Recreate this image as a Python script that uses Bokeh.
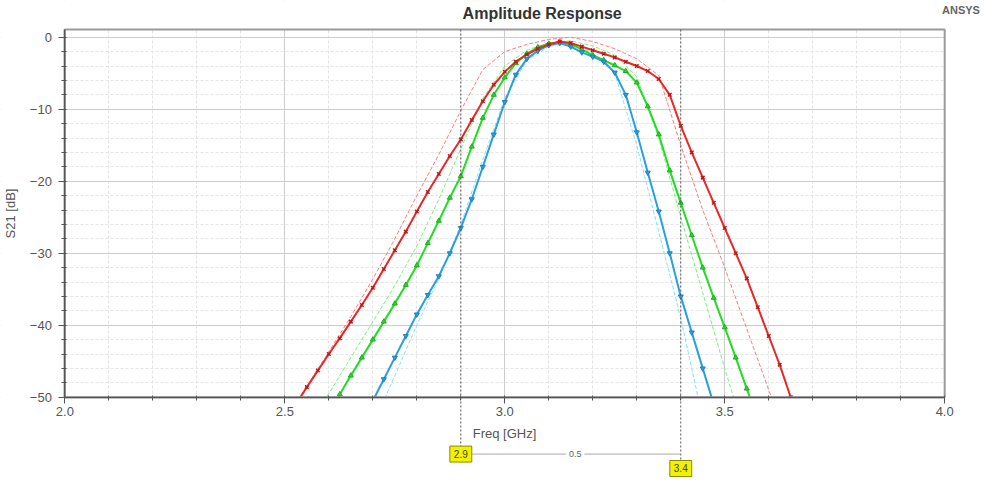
from bokeh.plotting import figure
from bokeh.models import Range1d, SingleIntervalTicker, Label, Arrow, PrintfTickFormatter
from bokeh.embed import file_html
from bokeh.resources import INLINE

# ---------------- data ----------------
freq_red = [2.525, 2.55, 2.575, 2.6, 2.625, 2.65, 2.675, 2.7, 2.725, 2.75, 2.775, 2.8, 2.825,
            2.85, 2.875, 2.9, 2.925, 2.95, 2.975, 3.0, 3.025, 3.05, 3.075, 3.1, 3.125, 3.15,
            3.175, 3.2, 3.225, 3.25, 3.275, 3.3, 3.325, 3.35, 3.375, 3.4, 3.425, 3.45, 3.475,
            3.5, 3.525, 3.55, 3.575, 3.6, 3.625, 3.65, 3.675]
s21_red = [-51.0, -48.6, -46.3, -44.0, -41.8, -39.5, -37.2, -34.8, -32.2, -29.6, -27.0, -24.2, -21.5,
           -19.0, -16.5, -14.2, -11.5, -8.9, -6.6, -4.8, -3.4, -2.4, -1.6, -1.0, -0.6, -0.8,
           -1.3, -1.8, -2.3, -2.8, -3.4, -4.0, -4.7, -5.8, -8.0, -12.3, -16.0, -19.5, -23.0,
           -26.5, -30.0, -33.5, -37.5, -41.5, -45.5, -50.0, -54.0]

freq_green = [2.6, 2.625, 2.65, 2.675, 2.7, 2.725, 2.75, 2.775, 2.8, 2.825, 2.85, 2.875, 2.9,
              2.925, 2.95, 2.975, 3.0, 3.025, 3.05, 3.075, 3.1, 3.125, 3.15, 3.175, 3.2, 3.225,
              3.25, 3.275, 3.3, 3.325, 3.35, 3.375, 3.4, 3.425, 3.45, 3.475, 3.5, 3.525, 3.55, 3.575]
s21_green = [-52.5, -49.6, -47.0, -44.5, -42.0, -39.5, -37.0, -34.4, -31.7, -28.6, -25.5, -22.3, -19.3,
             -15.2, -11.2, -8.0, -5.6, -3.6, -2.3, -1.4, -0.9, -0.7, -1.0, -1.7, -2.5, -3.2,
             -3.9, -4.7, -6.3, -9.6, -13.5, -18.5, -23.0, -27.5, -32.0, -36.2, -40.3, -44.5, -48.8, -53.0]

freq_blue = [2.675, 2.7, 2.725, 2.75, 2.775, 2.8, 2.825, 2.85, 2.875, 2.9, 2.925, 2.95, 2.975,
             3.0, 3.025, 3.05, 3.075, 3.1, 3.125, 3.15, 3.175, 3.2, 3.225, 3.25, 3.275, 3.3,
             3.325, 3.35, 3.375, 3.4, 3.425, 3.45, 3.475]
s21_blue = [-53.5, -50.5, -47.5, -44.5, -41.5, -38.5, -35.8, -33.2, -30.0, -26.5, -22.5, -18.0, -13.5,
            -9.0, -5.2, -3.0, -1.9, -1.1, -0.8, -1.3, -2.1, -2.7, -3.4, -4.9, -8.0, -13.2,
            -18.8, -24.2, -30.0, -36.0, -41.0, -46.0, -51.0]

freq_pink_d = [2.5, 2.55, 2.6, 2.65, 2.7, 2.75, 2.8, 2.85, 2.9, 2.95, 3.0, 3.05, 3.1, 3.15,
               3.2, 3.25, 3.3, 3.35, 3.4, 3.45, 3.5, 3.55, 3.6, 3.65]
s21_pink_d = [-53.0, -48.5, -43.7, -38.8, -33.6, -28.0, -22.0, -16.3, -10.2, -4.5, -2.0, -1.0, -0.3, 0.0,
              -0.6, -1.6, -3.0, -5.3, -15.0, -24.0, -32.0, -40.5, -49.0, -57.0]

freq_lgreen_d = [2.55, 2.6, 2.65, 2.7, 2.75, 2.8, 2.85, 2.9, 2.95, 3.0, 3.05, 3.1, 3.15, 3.2,
                 3.25, 3.3, 3.35, 3.4, 3.45, 3.5, 3.55]
s21_lgreen_d = [-54.0, -49.5, -44.5, -39.5, -34.5, -29.0, -22.5, -15.5, -8.5, -4.0, -1.8, -0.8, -0.5, -1.2,
                -2.5, -5.5, -14.0, -25.0, -35.5, -46.0, -56.0]

freq_cyan_d = [2.7, 2.75, 2.8, 2.85, 2.9, 2.95, 3.0, 3.05, 3.1, 3.15, 3.2, 3.25, 3.3, 3.35, 3.4, 3.45]
s21_cyan_d = [-54.0, -47.0, -40.0, -33.5, -26.0, -17.0, -8.5, -3.2, -1.3, -0.8, -2.2, -5.0, -15.0, -27.0, -39.0, -53.0]

marker_freqs = [2.9, 3.4]
marker_labels = ["2.9", "3.4"]
delta_label = "0.5"

# plot box (axis limits) and the extended frame that also holds the labels and marker strip
X_MIN, X_MAX = 2.0, 4.0
Y_MIN, Y_MAX = -50.0, 1.07
FRAME_X = (1.8536, 4.0905)
FRAME_Y = (-61.29, 5.10)

FONT = "Liberation Sans"
GRAY = "#555555"

p = figure(width=984, height=478, output_backend="svg", toolbar_location=None,
           x_range=Range1d(*FRAME_X), y_range=Range1d(*FRAME_Y),
           min_border_left=0, min_border_right=0, min_border_top=0, min_border_bottom=0)
p.background_fill_color = "white"
p.border_fill_color = "white"
p.outline_line_color = None

# axes
p.xaxis.ticker = SingleIntervalTicker(interval=0.5, num_minor_ticks=5)
p.yaxis.ticker = SingleIntervalTicker(interval=10, num_minor_ticks=5)
p.xaxis.formatter = PrintfTickFormatter(format="%.1f")
p.xaxis.fixed_location = Y_MIN
p.yaxis.fixed_location = X_MIN
p.xaxis.bounds = (X_MIN, X_MAX)
p.yaxis.bounds = (Y_MIN, Y_MAX)
p.xaxis.axis_label = "Freq [GHz]"
p.yaxis.axis_label = "S21 [dB]"
for ax in (p.xaxis, p.yaxis):
    ax.axis_label_text_font = FONT
    ax.axis_label_text_font_size = "13px"
    ax.axis_label_text_font_style = "normal"
    ax.axis_label_text_color = GRAY
    ax.major_label_text_font = FONT
    ax.major_label_text_font_size = "13px"
    ax.major_label_text_color = GRAY
    ax.axis_line_color = GRAY
    ax.axis_line_width = 1.5
    ax.major_tick_line_color = GRAY
    ax.minor_tick_line_color = GRAY
    ax.major_tick_out = 6
    ax.major_tick_in = 0
    ax.minor_tick_out = 3
    ax.minor_tick_in = 2
p.xaxis.major_label_standoff = 4
p.xaxis.axis_label_standoff = 6
p.yaxis.major_label_standoff = 7
p.yaxis.axis_label_standoff = 8

# grid
for g in (p.xgrid, p.ygrid):
    g.grid_line_color = "#cdcdcd"
    g.grid_line_width = 1
    g.minor_grid_line_color = "#e4e4e4"
    g.minor_grid_line_dash = "3 2"

# dashed (thin) curves
p.line(freq_pink_d, s21_pink_d, line_color="#ff7a7a", line_width=1, line_dash="4 2")
p.line(freq_lgreen_d, s21_lgreen_d, line_color="#7cf07c", line_width=1, line_dash="4 2")
p.line(freq_cyan_d, s21_cyan_d, line_color="#7fe4f4", line_width=1, line_dash="4 2")

# solid curves with markers
p.line(freq_green, s21_green, line_color="#22dd22", line_width=2)
p.scatter(freq_green, s21_green, marker="triangle", size=5, line_color="#22aa22", fill_color="#22dd22")
p.line(freq_blue, s21_blue, line_color="#2a9fe0", line_width=2)
p.scatter(freq_blue, s21_blue, marker="inverted_triangle", size=5, line_color="#1f7fc0", fill_color="#2a9fe0")
p.line(freq_red, s21_red, line_color="#e82828", line_width=2)
p.scatter(freq_red, s21_red, marker="x", size=5, line_color="#c01818", line_width=1.5)

# white masks: keep everything outside the plot box clean
mask = dict(fill_color="white", line_color=None)
p.quad(left=FRAME_X[0], right=FRAME_X[1], bottom=FRAME_Y[0], top=Y_MIN, **mask)
p.quad(left=FRAME_X[0], right=FRAME_X[1], bottom=Y_MAX, top=FRAME_Y[1], **mask)
p.quad(left=X_MAX, right=FRAME_X[1], bottom=FRAME_Y[0], top=FRAME_Y[1], **mask)
p.quad(left=FRAME_X[0], right=X_MIN, bottom=FRAME_Y[0], top=FRAME_Y[1], **mask)
# plot box outline
p.quad(left=X_MIN, right=X_MAX, bottom=Y_MIN, top=Y_MAX, fill_color=None,
       line_color="#9a9a9a", line_width=2)

# frequency markers
box_y = [-57.9, -59.9]
for f, by in zip(marker_freqs, box_y):
    p.add_layout(Arrow(end=None, x_start=f, y_start=Y_MAX, x_end=f, y_end=by,
                       line_color=GRAY, line_width=1, line_dash="2 2"))
p.add_layout(Arrow(end=None, x_start=marker_freqs[0] + 0.02, y_start=box_y[0],
                   x_end=marker_freqs[1], y_end=box_y[0],
                   line_color="#aaaaaa", line_width=1))
p.add_layout(Label(x=(marker_freqs[0] + marker_freqs[1]) / 2 + 0.01, y=box_y[0], text=delta_label,
                   text_align="center", text_baseline="middle", text_font=FONT,
                   text_font_size="9px", text_color="#666666",
                   background_fill_color="white", padding=3))
for f, lab, by in zip(marker_freqs, marker_labels, box_y):
    p.add_layout(Label(x=f, y=by, text=lab, text_align="center", text_baseline="middle",
                       text_font=FONT, text_font_size="10px", text_color="#444400",
                       background_fill_color="#f2f200", border_line_color="#8a8a00",
                       border_line_width=1, padding=4))

# title and ANSYS mark
p.add_layout(Label(x=3.085, y=3.29, text="Amplitude Response", text_align="center",
                   text_baseline="middle", text_font=FONT, text_font_size="16px",
                   text_font_style="bold", text_color="#333333"))
p.add_layout(Label(x=4.037, y=3.75, text="ANSYS", text_align="center", text_baseline="middle",
                   text_font=FONT, text_font_size="11px", text_font_style="bold",
                   text_color="#666666"))

open("out.html", "w").write(file_html(p, INLINE))
